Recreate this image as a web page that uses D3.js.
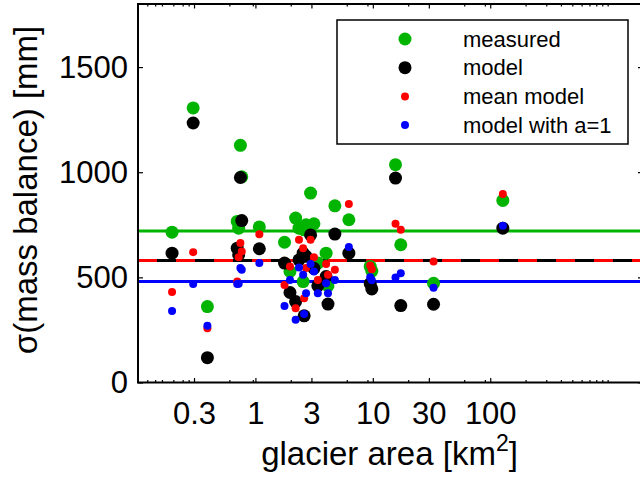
<!DOCTYPE html>
<html>
<head>
<meta charset="utf-8">
<script src="https://cdn.jsdelivr.net/npm/d3@7"></script>
<style>
  body { margin: 0; background: #fff; }
  text { font-family: "Liberation Sans", Arial, sans-serif; fill: #000; }
</style>
</head>
<body>
<svg width="640" height="483"></svg>
<script>
// glacier area [km2], one entry per glacier
let area = [0.195, 0.295, 0.39, 0.70, 0.72, 0.745, 0.765, 1.08,
  1.77, 1.97, 2.2, 2.35, 2.55, 2.6, 2.7, 2.95, 3.15, 3.4, 4.0, 4.15, 4.75, 6.25,
  9.5, 9.8, 15.6, 17.3, 32.9, 128];
let measured = [715, 1306, 361, 766, 734, 1128, 978, 740,
  667, 528, 782, 734, 480, 726, 750, 901, 755, 568, 615, 460, 840, 774,
  552, 530, 1036, 655, 472, 866];
let model = [615, 1234, 118, 639, 607, 975, 770, 636,
  568, 428, 385, 583, 615, 317, 600, 702, 543, 460, 504, 373, 706, 615,
  470, 445, 972, 366, 372, 734];
let meanModel = [430, 620, 258, 480, 596, 663, 623, 705,
  464, 552, 353, 679, 639, 401, 544, 679, 596, 488, 564, 512, 536, 849,
  557, 538, 755, 726, 575, 896];
let modelA1 = [340, 468, 270, 468, 470, 544, 536, 568,
  364, 488, 298, 547, 512, 326, 425, 564, 528, 425, 472, 425, 488, 644,
  500, 486, 499, 520, 451, 745];

// averages drawn as horizontal lines
let meanMeasured = 721;
let meanOfModel = 580;
let meanOfMeanModel = 580;
let meanOfModelA1 = 480;

let xTicks = [0.3, 1, 3, 10, 30, 100];
let xMinorTicks = [0.12, 0.14, 0.16, 0.2, 0.24, 0.27, 0.6, 0.95, 2, 6, 9, 20, 60, 90,
  200, 300, 400, 500, 600, 700, 800, 900, 1000];
let yTicks = [0, 500, 1000, 1500];

let legendLabels = ["measured", "model", "mean model", "model with a=1"];

const green = "#00b400";

let svg = d3.select("svg");
let pLeft = 138, pRight = 643, pTop = 4, pBottom = 382.5;

let x = d3.scaleLog().domain([0.1, 2000]).range([pLeft, pRight]);
let y = d3.scaleLinear().domain([0, 1800]).range([pBottom, pTop]);

// horizontal mean lines
let lines = [
  { v: meanMeasured, color: green, dash: null },
  { v: meanOfModel, color: "#000", dash: null },
  { v: meanOfMeanModel, color: "#f00", dash: "19,19" },
  { v: meanOfModelA1, color: "#00f", dash: null },
];
svg.append("g")
  .selectAll("line")
  .data(lines)
  .enter()
  .append("line")
  .attr("x1", pLeft)
  .attr("x2", pRight)
  .attr("y1", (d) => y(d.v))
  .attr("y2", (d) => y(d.v))
  .attr("stroke", (d) => d.color)
  .attr("stroke-width", 3)
  .attr("stroke-dasharray", (d) => d.dash);

// points, drawn series by series
let series = [
  { values: measured, color: green, r: 6.5 },
  { values: model, color: "#000", r: 6.5 },
  { values: meanModel, color: "#f00", r: 4 },
  { values: modelA1, color: "#00f", r: 4 },
];
series.forEach((s) => {
  svg.append("g")
    .selectAll("circle")
    .data(area)
    .enter()
    .append("circle")
    .attr("cx", (d) => x(d))
    .attr("cy", (d, i) => y(s.values[i]))
    .attr("r", s.r)
    .attr("fill", s.color);
});

// axes with inward ticks on every side
function styleAxis(g) {
  g.select(".domain").remove();
  g.selectAll("line").attr("stroke", "#000").attr("stroke-width", 1.2);
  g.selectAll("text").style("font-size", "31px")
    .style("font-family", "'Liberation Sans', Arial, sans-serif");
}

svg.append("g")
  .attr("transform", `translate(0,${pBottom})`)
  .call(d3.axisBottom(x).tickValues(xTicks).tickFormat(d3.format("")).tickSize(-4.5).tickPadding(19.5))
  .call(styleAxis);
svg.append("g")
  .attr("transform", `translate(0,${pBottom})`)
  .call(d3.axisBottom(x).tickValues(xMinorTicks).tickFormat("").tickSize(-2.5))
  .call(styleAxis);
svg.append("g")
  .attr("transform", `translate(0,${pTop})`)
  .call(d3.axisTop(x).tickValues(xTicks).tickFormat("").tickSize(-4.5))
  .call(styleAxis);
svg.append("g")
  .attr("transform", `translate(0,${pTop})`)
  .call(d3.axisTop(x).tickValues(xMinorTicks).tickFormat("").tickSize(-2.5))
  .call(styleAxis);
svg.append("g")
  .attr("transform", `translate(${pLeft},0)`)
  .call(d3.axisLeft(y).tickValues(yTicks).tickFormat(d3.format("d")).tickSize(-5).tickPadding(10))
  .call(styleAxis);
svg.append("g")
  .attr("transform", `translate(${pRight},0)`)
  .call(d3.axisRight(y).tickValues(yTicks).tickFormat("").tickSize(-5))
  .call(styleAxis);

// frame
svg.append("rect")
  .attr("x", pLeft)
  .attr("y", pTop)
  .attr("width", pRight - pLeft)
  .attr("height", pBottom - pTop)
  .attr("fill", "none")
  .attr("stroke", "#000")
  .attr("stroke-width", 2);

// axis labels
let xl = svg.append("text")
  .attr("x", (pLeft + pRight) / 2 - 1)
  .attr("y", 465)
  .attr("text-anchor", "middle")
  .style("font-size", "33px");
xl.append("tspan").text("glacier area [km");
xl.append("tspan").attr("dy", -14).style("font-size", "23px").text("2");
xl.append("tspan").attr("dy", 14).text("]");

svg.append("text")
  .attr("transform", "translate(37,190) rotate(-90)")
  .attr("text-anchor", "middle")
  .style("font-size", "33px")
  .text("σ(mass balance) [mm]");

// legend
let legend = svg.append("g");
legend.append("rect")
  .attr("x", 337)
  .attr("y", 20)
  .attr("width", 291)
  .attr("height", 124)
  .attr("fill", "#fff")
  .attr("stroke", "#000")
  .attr("stroke-width", 1.5);
let rows = legend.selectAll("g.row")
  .data(series)
  .enter()
  .append("g")
  .attr("class", "row")
  .attr("transform", (d, i) => `translate(0,${39 + i * 28.7})`);
rows.append("circle")
  .attr("cx", 405)
  .attr("r", (d) => d.r)
  .attr("fill", (d) => d.color);
rows.append("text")
  .attr("x", 463)
  .attr("dy", "0.35em")
  .style("font-size", "22px")
  .text((d, i) => legendLabels[i]);
</script>
</body>
</html>
